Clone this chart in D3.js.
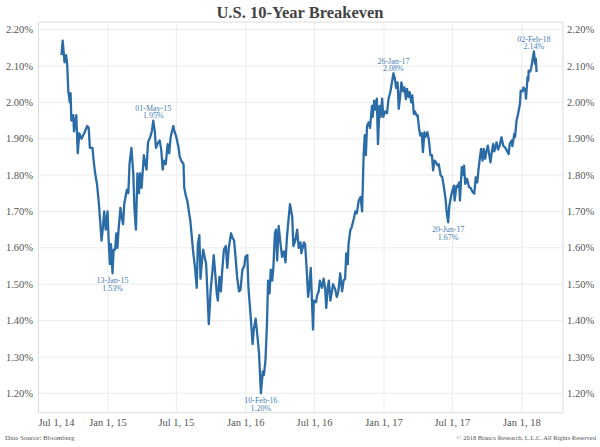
<!DOCTYPE html>
<html><head><meta charset="utf-8">
<script src="https://cdn.jsdelivr.net/npm/d3@7"></script>
<style>body{margin:0;background:#fff} svg{display:block}</style>
</head><body><svg id="c" width="600" height="447"></svg>
<script>
const dates = [
"2014-08-31","2014-09-03","2014-09-08","2014-09-12","2014-09-15","2014-09-18","2014-09-22","2014-09-24","2014-09-26","2014-10-01",
"2014-10-03","2014-10-09","2014-10-13","2014-10-17","2014-10-23","2014-10-30","2014-11-07","2014-11-11","2014-11-14","2014-11-21",
"2014-11-24","2014-11-28","2014-12-03","2014-12-08","2014-12-15","2014-12-18","2014-12-22","2014-12-26","2014-12-31","2015-01-02",
"2015-01-06","2015-01-09","2015-01-13","2015-01-16","2015-01-20","2015-01-23","2015-01-26","2015-01-29","2015-02-03","2015-02-06",
"2015-02-10","2015-02-13","2015-02-20","2015-02-24","2015-02-27","2015-03-04","2015-03-09","2015-03-12","2015-03-16","2015-03-20",
"2015-03-24","2015-03-27","2015-03-31","2015-04-06","2015-04-09","2015-04-13","2015-04-17","2015-04-23","2015-04-27","2015-05-01",
"2015-05-05","2015-05-08","2015-05-14","2015-05-18","2015-05-22","2015-05-26","2015-05-29","2015-06-03","2015-06-08","2015-06-12",
"2015-06-16","2015-06-23","2015-06-26","2015-07-01","2015-07-07","2015-07-10","2015-07-14","2015-07-20","2015-07-22","2015-07-27",
"2015-07-30","2015-08-04","2015-08-07","2015-08-11","2015-08-14","2015-08-20","2015-08-24","2015-08-27","2015-08-31","2015-09-03",
"2015-09-07","2015-09-10","2015-09-14","2015-09-18","2015-09-21","2015-09-25","2015-09-30","2015-10-05","2015-10-08","2015-10-12",
"2015-10-16","2015-10-19","2015-10-23","2015-10-27","2015-10-30","2015-11-04","2015-11-09","2015-11-13","2015-11-17","2015-11-23",
"2015-11-26","2015-12-01","2015-12-04","2015-12-09","2015-12-14","2015-12-18","2015-12-23","2015-12-28","2015-12-31","2016-01-05",
"2016-01-08","2016-01-14","2016-01-19","2016-01-22","2016-01-27","2016-02-01","2016-02-05","2016-02-10","2016-02-15","2016-02-18",
"2016-02-22","2016-02-26","2016-02-29","2016-03-04","2016-03-07","2016-03-11","2016-03-14","2016-03-18","2016-03-21","2016-03-24",
"2016-03-28","2016-04-01","2016-04-06","2016-04-11","2016-04-15","2016-04-19","2016-04-22","2016-04-27","2016-05-03","2016-05-06",
"2016-05-11","2016-05-16","2016-05-20","2016-05-25","2016-05-27","2016-06-03","2016-06-06","2016-06-10","2016-06-14","2016-06-17",
"2016-06-21","2016-06-27","2016-06-29","2016-07-05","2016-07-08","2016-07-12","2016-07-15","2016-07-21","2016-07-25","2016-07-29",
"2016-08-01","2016-08-05","2016-08-08","2016-08-12","2016-08-16","2016-08-19","2016-08-25","2016-08-29","2016-09-02","2016-09-07",
"2016-09-12","2016-09-16","2016-09-20","2016-09-23","2016-09-27","2016-09-29","2016-10-04","2016-10-07","2016-10-13","2016-10-17",
"2016-10-21","2016-10-26","2016-10-31","2016-11-04","2016-11-08","2016-11-11","2016-11-14","2016-11-17","2016-11-21","2016-11-25",
"2016-11-30","2016-12-02","2016-12-06","2016-12-09","2016-12-13","2016-12-16","2016-12-20","2016-12-23","2016-12-27","2016-12-30",
"2017-01-04","2017-01-09","2017-01-13","2017-01-18","2017-01-26","2017-01-30","2017-02-02","2017-02-06","2017-02-09","2017-02-13",
"2017-02-16","2017-02-21","2017-02-24","2017-02-28","2017-03-03","2017-03-07","2017-03-10","2017-03-14","2017-03-17","2017-03-21",
"2017-03-24","2017-03-28","2017-03-31","2017-04-04","2017-04-07","2017-04-11","2017-04-14","2017-04-18","2017-04-21","2017-04-26",
"2017-04-30","2017-05-04","2017-05-08","2017-05-11","2017-05-15","2017-05-19","2017-05-23","2017-05-26","2017-05-31","2017-06-04",
"2017-06-08","2017-06-13","2017-06-16","2017-06-20","2017-06-23","2017-06-27","2017-06-30","2017-07-05","2017-07-07","2017-07-12",
"2017-07-14","2017-07-19","2017-07-21","2017-07-26","2017-07-28","2017-08-01","2017-08-04","2017-08-09","2017-08-14","2017-08-18",
"2017-08-24","2017-08-28","2017-09-01","2017-09-05","2017-09-08","2017-09-12","2017-09-15","2017-09-19","2017-09-22","2017-09-26",
"2017-09-29","2017-10-03","2017-10-06","2017-10-10","2017-10-13","2017-10-17","2017-10-20","2017-10-26","2017-10-30","2017-11-03",
"2017-11-08","2017-11-13","2017-11-17","2017-11-21","2017-11-27","2017-11-30","2017-12-05","2017-12-07","2017-12-12","2017-12-14",
"2017-12-18","2017-12-22","2017-12-27","2017-12-29","2018-01-03","2018-01-05","2018-01-10","2018-01-12","2018-01-16","2018-01-18",
"2018-01-19","2018-01-23","2018-01-26","2018-02-02","2018-02-05","2018-02-07","2018-02-09"
];
const values = [
2.13,2.17,2.11,2.13,2.105,2.03,2.00,2.025,1.95,1.965,
1.92,1.965,1.86,1.915,1.90,1.915,1.935,1.93,1.875,1.875,
1.84,1.805,1.775,1.72,1.62,1.65,1.70,1.65,1.70,1.64,
1.555,1.61,1.53,1.595,1.595,1.64,1.60,1.65,1.71,1.685,
1.665,1.72,1.76,1.75,1.83,1.875,1.805,1.71,1.65,1.805,
1.75,1.805,1.765,1.855,1.835,1.815,1.89,1.905,1.92,1.95,
1.92,1.875,1.89,1.895,1.87,1.815,1.84,1.83,1.885,1.86,
1.905,1.935,1.92,1.905,1.875,1.85,1.84,1.83,1.765,1.74,
1.73,1.695,1.675,1.63,1.595,1.54,1.49,1.61,1.635,1.515,
1.565,1.595,1.575,1.555,1.485,1.39,1.485,1.54,1.58,1.53,
1.475,1.455,1.52,1.48,1.53,1.595,1.605,1.545,1.60,1.64,
1.63,1.62,1.585,1.52,1.48,1.485,1.54,1.55,1.575,1.58,
1.49,1.41,1.335,1.375,1.405,1.355,1.31,1.20,1.26,1.25,
1.29,1.39,1.51,1.475,1.54,1.51,1.545,1.64,1.65,1.565,
1.66,1.62,1.575,1.59,1.56,1.63,1.665,1.72,1.685,1.605,
1.62,1.65,1.60,1.615,1.585,1.615,1.61,1.545,1.465,1.49,
1.545,1.375,1.455,1.45,1.47,1.48,1.51,1.49,1.515,1.49,
1.435,1.49,1.51,1.455,1.48,1.50,1.485,1.465,1.48,1.53,
1.48,1.51,1.515,1.585,1.555,1.61,1.65,1.655,1.68,1.70,
1.695,1.73,1.74,1.70,1.855,1.91,1.855,1.935,1.945,1.93,
1.99,1.96,2.005,1.98,2.01,1.885,1.99,1.96,2.01,1.96,
1.975,1.97,2.01,2.03,2.08,2.064,2.04,2.055,1.982,2.019,
2.055,2.03,2.041,2.009,2.037,2.015,2.028,2.00,2.019,1.968,
1.975,1.964,1.965,1.927,1.909,1.915,1.863,1.918,1.905,1.918,
1.895,1.854,1.855,1.813,1.84,1.835,1.826,1.83,1.799,1.795,
1.771,1.735,1.698,1.67,1.716,1.739,1.753,1.771,1.73,1.77,
1.767,1.78,1.73,1.822,1.80,1.826,1.776,1.79,1.767,1.765,
1.753,1.749,1.794,1.78,1.813,1.849,1.872,1.84,1.872,1.845,
1.865,1.881,1.86,1.835,1.86,1.886,1.865,1.89,1.87,1.88,
1.904,1.88,1.877,1.87,1.858,1.886,1.895,1.88,1.913,1.905,
1.95,1.968,1.996,2.032,2.03,2.041,2.035,2.01,2.069,2.06,
2.087,2.085,2.096,2.14,2.106,2.12,2.083
];
const yTicks = [1.2,1.3,1.4,1.5,1.6,1.7,1.8,1.9,2.0,2.1,2.2];
const xTickDates = ["2014-07-01","2015-01-01","2015-07-01","2016-01-01","2016-07-01","2017-01-01","2017-07-01","2018-01-01"];
const xTickLabels = ["Jul 1, 14","Jan 1, 15","Jul 1, 15","Jan 1, 16","Jul 1, 16","Jan 1, 17","Jul 1, 17","Jan 1, 18"];
const annDates = ["2015-01-13","2015-05-01","2016-02-10","2017-01-26","2017-06-20","2018-02-02"];
const annValues = [1.53,1.95,1.20,2.08,1.67,2.14];
const annLabels = ["13-Jan-15","01-May-15","10-Feb-16","26-Jan-17","20-Jun-17","02-Feb-18"];
const title = "U.S. 10-Year Breakeven";
const sourceText = "Data Source: Bloomberg";
const copyText = "\u00a9 2018 Bianco Research, L.L.C. All Rights Reserved";

const parse = d3.utcParse("%Y-%m-%d");
const svg = d3.select("#c");
const L = 38.5, R = 563, T = 22, B = 412.7;
const x = d3.scaleUtc().domain([parse("2014-07-01"), parse("2018-04-20")]).range([L, R]);
const y = d3.scaleLinear().domain([1.1466, 2.221]).range([B, T]);
const serif = "'Liberation Serif','Times New Roman',serif";
const grid = "#ececec", axisCol = "#dcdcdc", txt = "#555";

// gridlines
const g = svg.append("g");
g.selectAll("line.h").data(yTicks).join("line")
  .attr("x1", L).attr("x2", R).attr("y1", d => y(d)).attr("y2", d => y(d))
  .attr("stroke", grid).attr("stroke-width", 1);
g.selectAll("line.v").data(xTickDates.slice(1)).join("line")
  .attr("x1", d => x(parse(d))).attr("x2", d => x(parse(d))).attr("y1", T).attr("y2", B)
  .attr("stroke", grid).attr("stroke-width", 1);
// frame
g.append("line").attr("x1", L).attr("x2", R).attr("y1", T).attr("y2", T).attr("stroke", axisCol);
g.append("line").attr("x1", L).attr("x2", R).attr("y1", B).attr("y2", B).attr("stroke", axisCol);
g.append("line").attr("x1", L).attr("x2", L).attr("y1", T).attr("y2", B).attr("stroke", axisCol);
g.append("line").attr("x1", R).attr("x2", R).attr("y1", T).attr("y2", B).attr("stroke", axisCol);

// y labels left & right
const fmt = d => d3.format(".2f")(d) + "%";
svg.append("g").selectAll("text").data(yTicks).join("text")
  .attr("x", 33).attr("y", d => y(d)).attr("dy", "0.35em").attr("text-anchor", "end")
  .attr("font-family", serif).attr("font-size", 10.5).attr("fill", txt).text(fmt);
svg.append("g").selectAll("text").data(yTicks).join("text")
  .attr("x", 567).attr("y", d => y(d)).attr("dy", "0.35em").attr("text-anchor", "start")
  .attr("font-family", serif).attr("font-size", 10.5).attr("fill", txt).text(fmt);

// x labels
svg.append("g").selectAll("text").data(xTickDates).join("text")
  .attr("x", d => x(parse(d)))
  .attr("y", 422).attr("dy", "0.35em")
  .attr("text-anchor", (d, i) => i === 0 ? "start" : "middle")
  .attr("font-family", serif).attr("font-size", 10.5).attr("fill", txt)
  .text((d, i) => xTickLabels[i]);

// line
const data = dates.map((d, i) => ({ date: parse(d), v: values[i] }));
svg.append("path").datum(data)
  .attr("fill", "none").attr("stroke", "#2b6ca6").attr("stroke-width", 2.3)
  .attr("stroke-linejoin", "round")
  .attr("d", d3.line().x(d => x(d.date)).y(d => y(d.v)));

// annotations
const below = new Set(["13-Jan-15", "10-Feb-16", "20-Jun-17"]);
const ann = svg.append("g").attr("font-family", serif).attr("font-size", 8).attr("fill", "#4a80b3").attr("text-anchor", "middle");
annLabels.forEach((lab, i) => {
  const px = x(parse(annDates[i])), py = y(annValues[i]);
  const b = below.has(lab);
  const y1 = b ? py + 7 : py - 12.5, y2 = b ? py + 14.5 : py - 5;
  ann.append("text").attr("x", px).attr("y", y1).attr("dy", "0.35em").text(lab);
  ann.append("text").attr("x", px).attr("y", y2).attr("dy", "0.35em").text(d3.format(".2f")(annValues[i]) + "%");
});

// title & footers
svg.append("text").attr("x", 300).attr("y", 12).attr("dy", "0.35em").attr("text-anchor", "middle")
  .attr("font-family", serif).attr("font-weight", "bold").attr("font-size", 16.5).attr("fill", "#444").text(title);
svg.append("text").attr("x", 5).attr("y", 438).attr("dy", "0.35em")
  .attr("font-family", serif).attr("font-size", 7).attr("fill", txt).text(sourceText);
svg.append("text").attr("x", 596).attr("y", 438).attr("dy", "0.35em").attr("text-anchor", "end")
  .attr("font-family", serif).attr("font-size", 6.5).attr("fill", txt).text(copyText);
</script></body></html>
